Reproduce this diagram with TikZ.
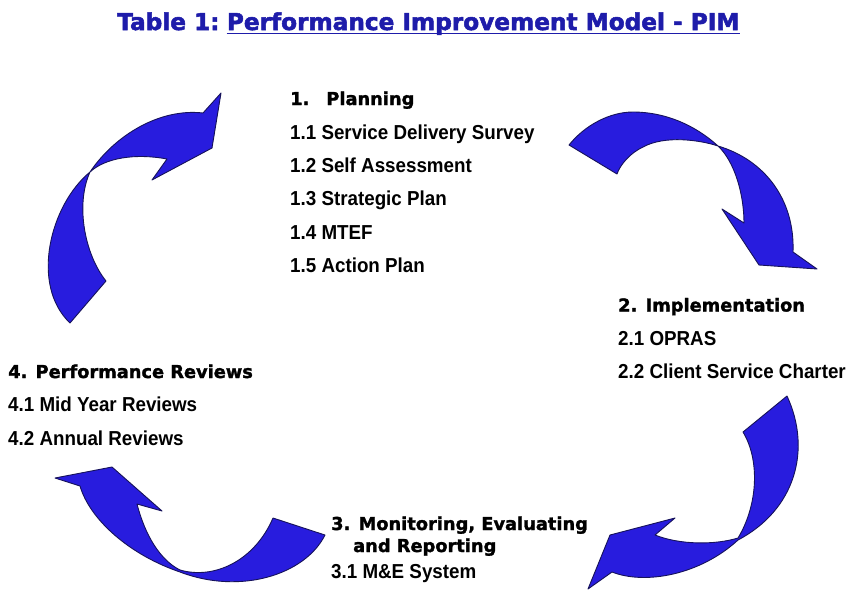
\documentclass[tikz,border=0pt]{standalone}
\usepackage{fontspec}
\setmainfont{Liberation Sans}
\newfontfamily\itemfont[FakeStretch=0.93]{Liberation Sans}
\newfontfamily\headfont[FakeBold=1.6]{DejaVu Sans}
\newfontfamily\titlefont[FakeBold=2.2]{DejaVu Sans}
\definecolor{arrowfill}{RGB}{40,28,222}
\definecolor{arrowline}{RGB}{22,18,90}
\definecolor{titleblue}{RGB}{30,28,170}
\begin{document}
\begin{tikzpicture}[x=1pt,y=-1pt,
  ribbon/.style={fill=arrowfill, draw=arrowline, line width=0.9pt, line join=round},
  itemtext/.style={anchor=base west, inner sep=0pt, font=\itemfont\bfseries\fontsize{20.2}{24}\selectfont},
  headtext/.style={anchor=base west, inner sep=0pt, font=\headfont\bfseries\fontsize{17.8}{22}\selectfont},
  titletext/.style={anchor=base west, inner sep=0pt, text=titleblue, font=\titlefont\bfseries\fontsize{23.2}{28}\selectfont}]
\fill[white] (0,0) rectangle (848,592);
\useasboundingbox (0,0) rectangle (848,592);

% title
\node[titletext] (t1) at (117,30) {Table 1:};
\node[titletext, anchor=base west] (t2) at ([xshift=7pt]t1.base east) {Performance Improvement Model - PIM};
\draw[titleblue, line width=1.8pt] ([yshift=-3.5pt]t2.base west) -- ([yshift=-3.5pt]t2.base east);

% arrow 1 (top left)
\path[ribbon] (70,323) -- (106,281) .. controls (85,255) and (75,205) .. (90,172)
  .. controls (105,158) and (135,153) .. (167,159) -- (152,180) -- (212,148) -- (221,93) -- (203,113)
  .. controls (160,108) and (115,135) .. (90,172)
  .. controls (50,205) and (30,285) .. (70,323) -- cycle;
% arrow 2 (top right)
\path[ribbon] (569,145) .. controls (585,125) and (610,112) .. (633,112)
  .. controls (665,112) and (695,125) .. (718,146)
  .. controls (765,160) and (795,200) .. (793,252)
  -- (817,269) -- (759,265) -- (722,209) -- (744,223)
  .. controls (744,195) and (735,162) .. (718,146)
  .. controls (700,140) and (665,135) .. (643,147)
  .. controls (630,153) and (620,165) .. (617,174) -- cycle;
% arrow 3 (bottom right)
\path[ribbon] (743,432) -- (787,396)
  .. controls (812,450) and (795,510) .. (738,540)
  .. controls (700,575) and (645,585) .. (612,572)
  -- (588,589) -- (610,535) -- (675,518) -- (655,535)
  .. controls (680,545) and (715,545) .. (738,538)
  .. controls (758,505) and (760,460) .. (743,432) -- cycle;
% arrow 4 (bottom left)
\path[ribbon] (325,535) .. controls (305,575) and (240,595) .. (180,572)
  .. controls (130,555) and (90,520) .. (80,486)
  -- (55,478) -- (112,467) -- (162,511) -- (137,504)
  .. controls (145,535) and (160,560) .. (180,570)
  .. controls (215,580) and (255,560) .. (273,518) -- cycle;

% 1 Planning
\node[headtext] (h1) at (290,105) {1.\hspace{17pt}Planning};
\node[itemtext] (i11) at (290,139) {1.1 Service Delivery Survey};
\node[itemtext] (i12) at (290,172) {1.2 Self Assessment};
\node[itemtext] (i13) at (290,205.5) {1.3 Strategic Plan};
\node[itemtext] (i14) at (290,239) {1.4 MTEF};
\node[itemtext] (i15) at (290,272.5) {1.5 Action Plan};

% 2 Implementation
\node[headtext] (h2) at (618,311.5) {2. Implementation};
\node[itemtext] (i21) at (618,345) {2.1 OPRAS};
\node[itemtext] (i22) at (618,378.5) {2.2 Client Service Charter};

% 3 Monitoring
\node[headtext] (h3) at (331,530) {3. Monitoring, Evaluating};
\node[headtext] (h3b) at (353,552) {and Reporting};
\node[itemtext] (i31) at (331,578.5) {3.1 M\&E System};

% 4 Performance reviews
\node[headtext] (h4) at (8,378) {4. Performance Reviews};
\node[itemtext] (i41) at (8,411.5) {4.1 Mid Year Reviews};
\node[itemtext] (i42) at (8,445) {4.2 Annual Reviews};
\end{tikzpicture}
\end{document}
